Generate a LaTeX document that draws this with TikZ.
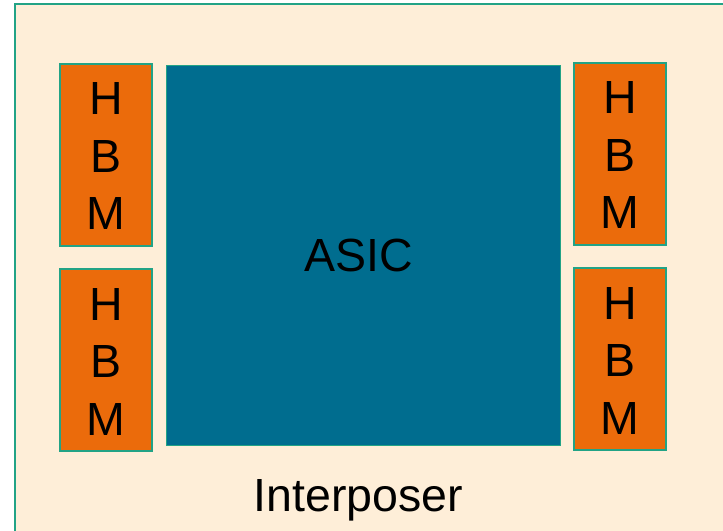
\documentclass[tikz,border=0pt]{standalone}
\usepackage{fontspec}
\setmainfont{Liberation Sans}
\definecolor{cream}{HTML}{FEEED8}
\definecolor{hbmorange}{HTML}{EB6B0B}
\definecolor{asicblue}{HTML}{006D8F}
\definecolor{edgegreen}{HTML}{22A386}
\begin{document}
\begin{tikzpicture}[x=1bp,y=-1bp,
  hbmbox/.style={draw=edgegreen,line width=2bp,fill=hbmorange},
  asicbox/.style={draw=edgegreen,line width=1bp,fill=asicblue},
  lbl/.style={anchor=base,inner sep=0pt,font=\fontsize{46.5bp}{56bp}\selectfont,text=black}]
\useasboundingbox (0,0) rectangle (723,531);
\fill[white] (0,0) rectangle (723,531);
\draw[draw=edgegreen,line width=2bp,fill=cream] (15,4) rectangle (740,550);
% ASIC
\node[asicbox,inner sep=0pt,minimum width=394bp,minimum height=379bp] (asic) at (363,255.5) {};
\node[lbl] (asictxt) at (358.5,272) {ASIC};
% HBMs
\node[hbmbox,inner sep=0pt,minimum width=92bp,minimum height=182bp] (hbmLT) at (106,155) {};
\node[hbmbox,inner sep=0pt,minimum width=92bp,minimum height=182bp] (hbmLB) at (106,360) {};
\node[hbmbox,inner sep=0pt,minimum width=92bp,minimum height=182bp] (hbmRT) at (620,154) {};
\node[hbmbox,inner sep=0pt,minimum width=92bp,minimum height=182bp] (hbmRB) at (620,359) {};
\node[lbl] (lt1) at (106,115) {H};
\node[lbl] (lt2) at (106,172.5) {B};
\node[lbl] (lt3) at (106,230) {M};
\node[lbl] (lb1) at (106,320) {H};
\node[lbl] (lb2) at (106,377.5) {B};
\node[lbl] (lb3) at (106,435) {M};
\node[lbl] (rt1) at (620,114) {H};
\node[lbl] (rt2) at (620,171.5) {B};
\node[lbl] (rt3) at (620,229) {M};
\node[lbl] (rb1) at (620,319) {H};
\node[lbl] (rb2) at (620,376.5) {B};
\node[lbl] (rb3) at (620,434) {M};
\node[lbl] (interposer) at (358.5,511) {Interposer};
\end{tikzpicture}
\end{document}
